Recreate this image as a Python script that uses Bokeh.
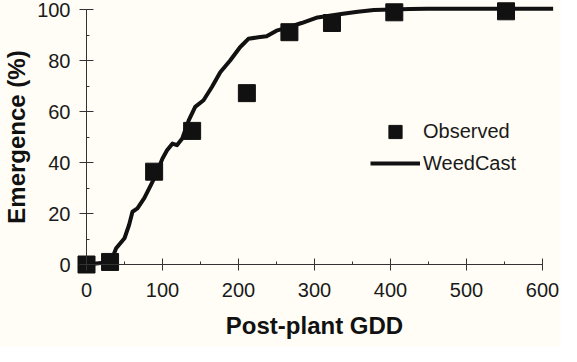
from bokeh.plotting import figure
from bokeh.models import FixedTicker, Legend, LegendItem, Range1d
from bokeh.embed import file_html
from bokeh.resources import INLINE

# ---- data ----
obs_gdd = [0, 31, 89, 139, 211, 267, 323, 405, 552]
obs_emergence = [0, 1, 36.4, 52.4, 67.2, 91.1, 94.7, 98.9, 99.3]

model_gdd = [0, 32, 39, 50, 56, 60.5, 67, 76, 84.5, 91, 100, 106, 113, 119, 126,
             134.5, 143, 154, 165, 176, 189, 202, 213, 226, 237, 250, 265, 283,
             304, 335, 357, 378, 426, 448, 500, 614]
model_emergence = [0, 1, 6.4, 10.3, 15.5, 20.7, 22, 26, 31, 35, 41.6, 44.8, 47.4,
                   46.8, 49.4, 56.5, 61.8, 64.4, 69.6, 75.4, 80, 85.2, 88.5, 89.1,
                   89.5, 91.7, 93, 94.7, 96.9, 98.2, 99.1, 99.8, 100.2, 100.3,
                   100.3, 100.3]

x_ticks = [0, 100, 200, 300, 400, 500, 600]
x_minor = [50, 150, 250, 350, 450, 550]
y_ticks = [0, 20, 40, 60, 80, 100]
y_minor = [10, 30, 50, 70, 90]

x_label = "Post-plant GDD"
y_label = "Emergence (%)"
series_names = ["Observed", "WeedCast"]

# ---- layout ----
BG = "#fffdf5"
INK = "#111111"
W, H = 561, 346
sx0, kx = 86.0, 0.7600   # canvas px of x=0, px per GDD
sy0, ky = 264.0, 2.55    # canvas px of y=0, px per %

p = figure(width=W, height=H,
           x_range=Range1d(-sx0 / kx, (W - sx0) / kx),
           y_range=Range1d((sy0 - H) / ky, sy0 / ky),
           output_backend="svg", toolbar_location=None,
           min_border_left=0, min_border_right=0, min_border_top=0, min_border_bottom=0,
           background_fill_color=BG, border_fill_color=BG, outline_line_color=None)
if p.title is not None:
    p.title.visible = False
p.grid.visible = False

FONT = "Liberation Sans"

xa = p.xaxis[0]
xa.fixed_location = 0
xa.bounds = (0, 600)
xa.ticker = FixedTicker(ticks=x_ticks, minor_ticks=x_minor)
xa.major_tick_in = 6
xa.major_tick_out = 6
xa.minor_tick_in = 3
xa.minor_tick_out = 0
xa.major_label_standoff = 12
xa.axis_label = x_label
xa.axis_label_standoff = 12

ya = p.yaxis[0]
ya.fixed_location = 0
ya.bounds = (0, 100)
ya.ticker = FixedTicker(ticks=y_ticks, minor_ticks=y_minor)
ya.major_tick_in = 7
ya.major_tick_out = 7
ya.minor_tick_in = 3
ya.minor_tick_out = 0
ya.major_label_standoff = 9
ya.axis_label = y_label
ya.axis_label_standoff = 4

for ax in (xa, ya):
    ax.axis_line_color = "#333333"
    ax.major_tick_line_color = "#333333"
    ax.minor_tick_line_color = "#333333"
    ax.axis_line_width = 1
    ax.major_label_text_font = FONT
    ax.major_label_text_font_size = "20px"
    ax.major_label_text_color = "#1a1a1a"
    ax.axis_label_text_font = FONT
    ax.axis_label_text_font_size = "24px"
    ax.axis_label_text_font_style = "bold"
    ax.axis_label_text_color = INK

line_r = p.line(model_gdd, model_emergence, line_width=4, line_color=INK,
                line_join="round")
sq_r = p.scatter(obs_gdd, obs_emergence, marker="square", size=17,
                 fill_color=INK, line_color=INK)

def make_legend(name, renderer, left, bottom, gh):
    leg = Legend(items=[LegendItem(label=name, renderers=[renderer])],
                 location=(left, bottom), padding=0, margin=0, spacing=0,
                 glyph_width=50, glyph_height=gh, label_height=gh,
                 label_standoff=3, border_line_color=None,
                 background_fill_alpha=0,
                 label_text_font=FONT, label_text_font_size="20px",
                 label_text_color="#1a1a1a")
    return leg

# Observed item: glyph box 50x33 centred at canvas (395, 131.5)
p.add_layout(make_legend(series_names[0], sq_r, 370, H - 148, 33), "center")
# WeedCast item: glyph box 50x24 centred at canvas (395, 163)
p.add_layout(make_legend(series_names[1], line_r, 370, H - 175, 24), "center")

open("out.html", "w").write(file_html(p, INLINE))
